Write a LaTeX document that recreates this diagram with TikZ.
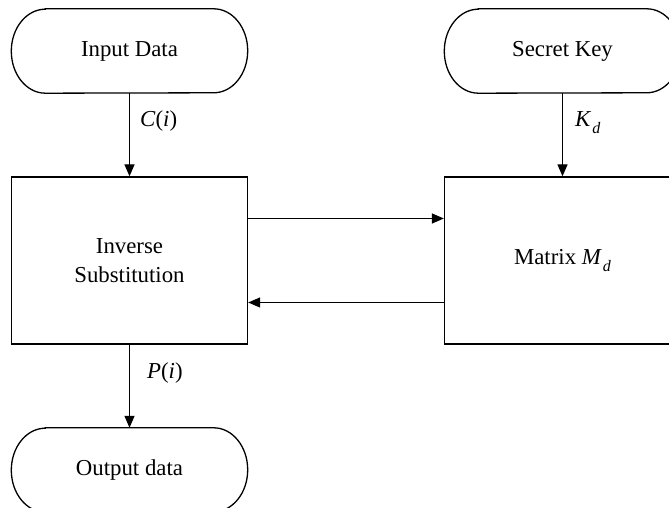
\documentclass[tikz,border=0pt]{standalone}
\usepackage{fontspec}
\setmainfont{Liberation Serif}
\usetikzlibrary{arrows.meta}

% italic symbol with a lowered subscript
\newcommand\symsub[2]{\textit{#1}\kern1pt\raisebox{-7pt}{\fontsize{16}{16}\selectfont\textit{#2}}}

\tikzset{
  base/.style={inner sep=0pt, font=\fontsize{22.8}{29}\selectfont, align=center},
  terminal/.style={base, minimum width=236pt, minimum height=84pt},
  procbox/.style={base, draw, line width=1.3pt, minimum width=236pt, minimum height=167pt},
  flow/.style={line width=1.3pt, -{Triangle[length=12pt, width=10pt]}},
  lbl/.style={inner sep=0pt, font=\fontsize{22.8}{29}\selectfont},
}

% outline of a terminal node with elliptic ends
\newcommand\termoutline[1]{%
  \draw[line width=1.3pt]
    ([xshift=34pt]#1.north west) -- ([xshift=-34pt]#1.north east)
    arc[start angle=90, end angle=-90, x radius=34pt, y radius=42pt]
    -- ([xshift=34pt]#1.south west)
    arc[start angle=270, end angle=90, x radius=34pt, y radius=42pt]
    -- cycle;}

\begin{document}
\begin{tikzpicture}[x=1pt, y=1pt]
  \useasboundingbox (0,0) rectangle (669,508);
  \clip (0,0) rectangle (669,508);

  \node[terminal] (in)  at (129.5,457) {Input Data};
  \node[terminal] (key) at (562.5,457) {Secret Key};
  \node[terminal] (out) at (129.5,38)  {Output data};
  \termoutline{in}
  \termoutline{key}
  \termoutline{out}

  \node[procbox] (inv) at (129.5,247.5) {Inverse\\Substitution};
  \node[procbox] (mat) at (562.5,247.5) {Matrix \symsub{M}{d}};

  \draw[flow] (in.south) -- (inv.north);
  \draw[flow] (key.south) -- (mat.north);
  \draw[flow] (inv.south) -- (out.north);
  \draw[flow] ([yshift=42pt]inv.east) -- ([yshift=42pt]mat.west);
  \draw[flow] ([yshift=-42pt]mat.west) -- ([yshift=-42pt]inv.east);

  \node[lbl, anchor=base west] (ci) at (140,381) {\textit{C}(\textit{i})};
  \node[lbl, anchor=base west] (kd) at (575,381) {\symsub{K}{d}};
  \node[lbl, anchor=base west] (pi) at (147,129) {\textit{P}(\textit{i})};
\end{tikzpicture}
\end{document}
